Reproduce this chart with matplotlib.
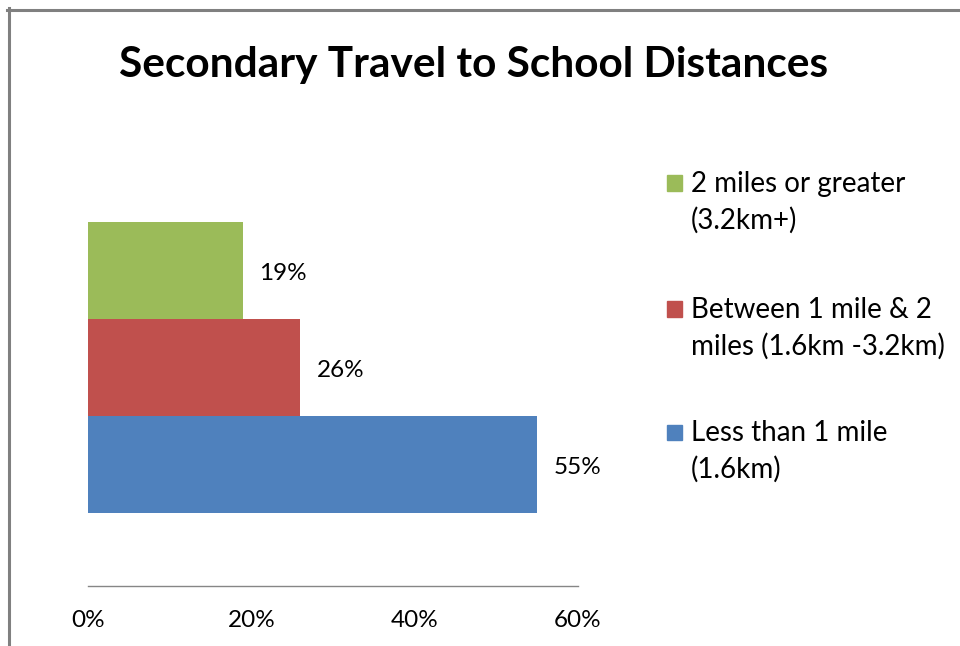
import matplotlib

matplotlib.use("Agg")
import matplotlib.pyplot as plt
from matplotlib.patches import Rectangle

# data (plot order bottom -> top)
categories = ["Less than 1 mile\n(1.6km)",
              "Between 1 mile & 2\nmiles (1.6km -3.2km)",
              "2 miles or greater\n(3.2km+)"]
values = [55, 26, 19]
colors = ["#4F81BD", "#C0504D", "#9BBB59"]
xticks = [0, 20, 40, 60]

plt.rcParams["font.family"] = ["Lato", "DejaVu Sans"]

W, H = 960, 646
fig = plt.figure(figsize=(W / 100, H / 100), dpi=100)

# axes placed in pixel terms: x 0..60% spans px 88..578, axis line at y=586
ax = fig.add_axes([88 / W, (H - 586) / H, (578 - 88) / W, (586 - 130) / H])
ypos = list(range(len(values)))
bars = ax.barh(ypos, values, height=1.0, color=colors)
for y, v in zip(ypos, values):
    ax.text(v + 2.0, y - 0.03, f"{v}%", va="center", ha="left", fontsize=17.5, color="#000000")

ax.set_xlim(0, 60)
ax.set_ylim(-1.253, 3.448)
ax.set_xticks(xticks, [f"{t}%" for t in xticks])
ax.set_yticks([])
ax.tick_params(axis="x", length=0, pad=17, labelsize=17.5)
for side in ["top", "right", "left"]:
    ax.spines[side].set_visible(False)
ax.spines["bottom"].set_color("#868686")
ax.spines["bottom"].set_linewidth(1.0)

# legend, top entry first
legend_rows = [183, 309, 432]
for row, label, col in zip(legend_rows, categories[::-1], colors[::-1]):
    fig.patches.append(Rectangle((667 / W, (H - row - 7.5) / H), 15 / W, 15 / H,
                                 transform=fig.transFigure, color=col))
    fig.text(691 / W, (H - row + 12) / H, label, ha="left", va="top",
             fontsize=20, linespacing=1.45)

fig.text(474 / W, (H - 65) / H, "Secondary Travel to School Distances",
         ha="center", va="center", fontsize=30.5, fontweight="bold")

# partially cut "Graph 2" caption and the chart frame
fig.text(12 / W, (H + 13) / H, "Graph 2", ha="left", va="center", fontsize=18)
fig.add_artist(plt.Line2D([8.5 / W, 8.5 / W], [0, (H - 8) / H], color="#808080", lw=2.2,
                          transform=fig.transFigure))
fig.add_artist(plt.Line2D([7 / W, 1], [(H - 9.5) / H, (H - 9.5) / H], color="#808080", lw=2.2,
                          transform=fig.transFigure))

fig.savefig("out.png", dpi=100)
